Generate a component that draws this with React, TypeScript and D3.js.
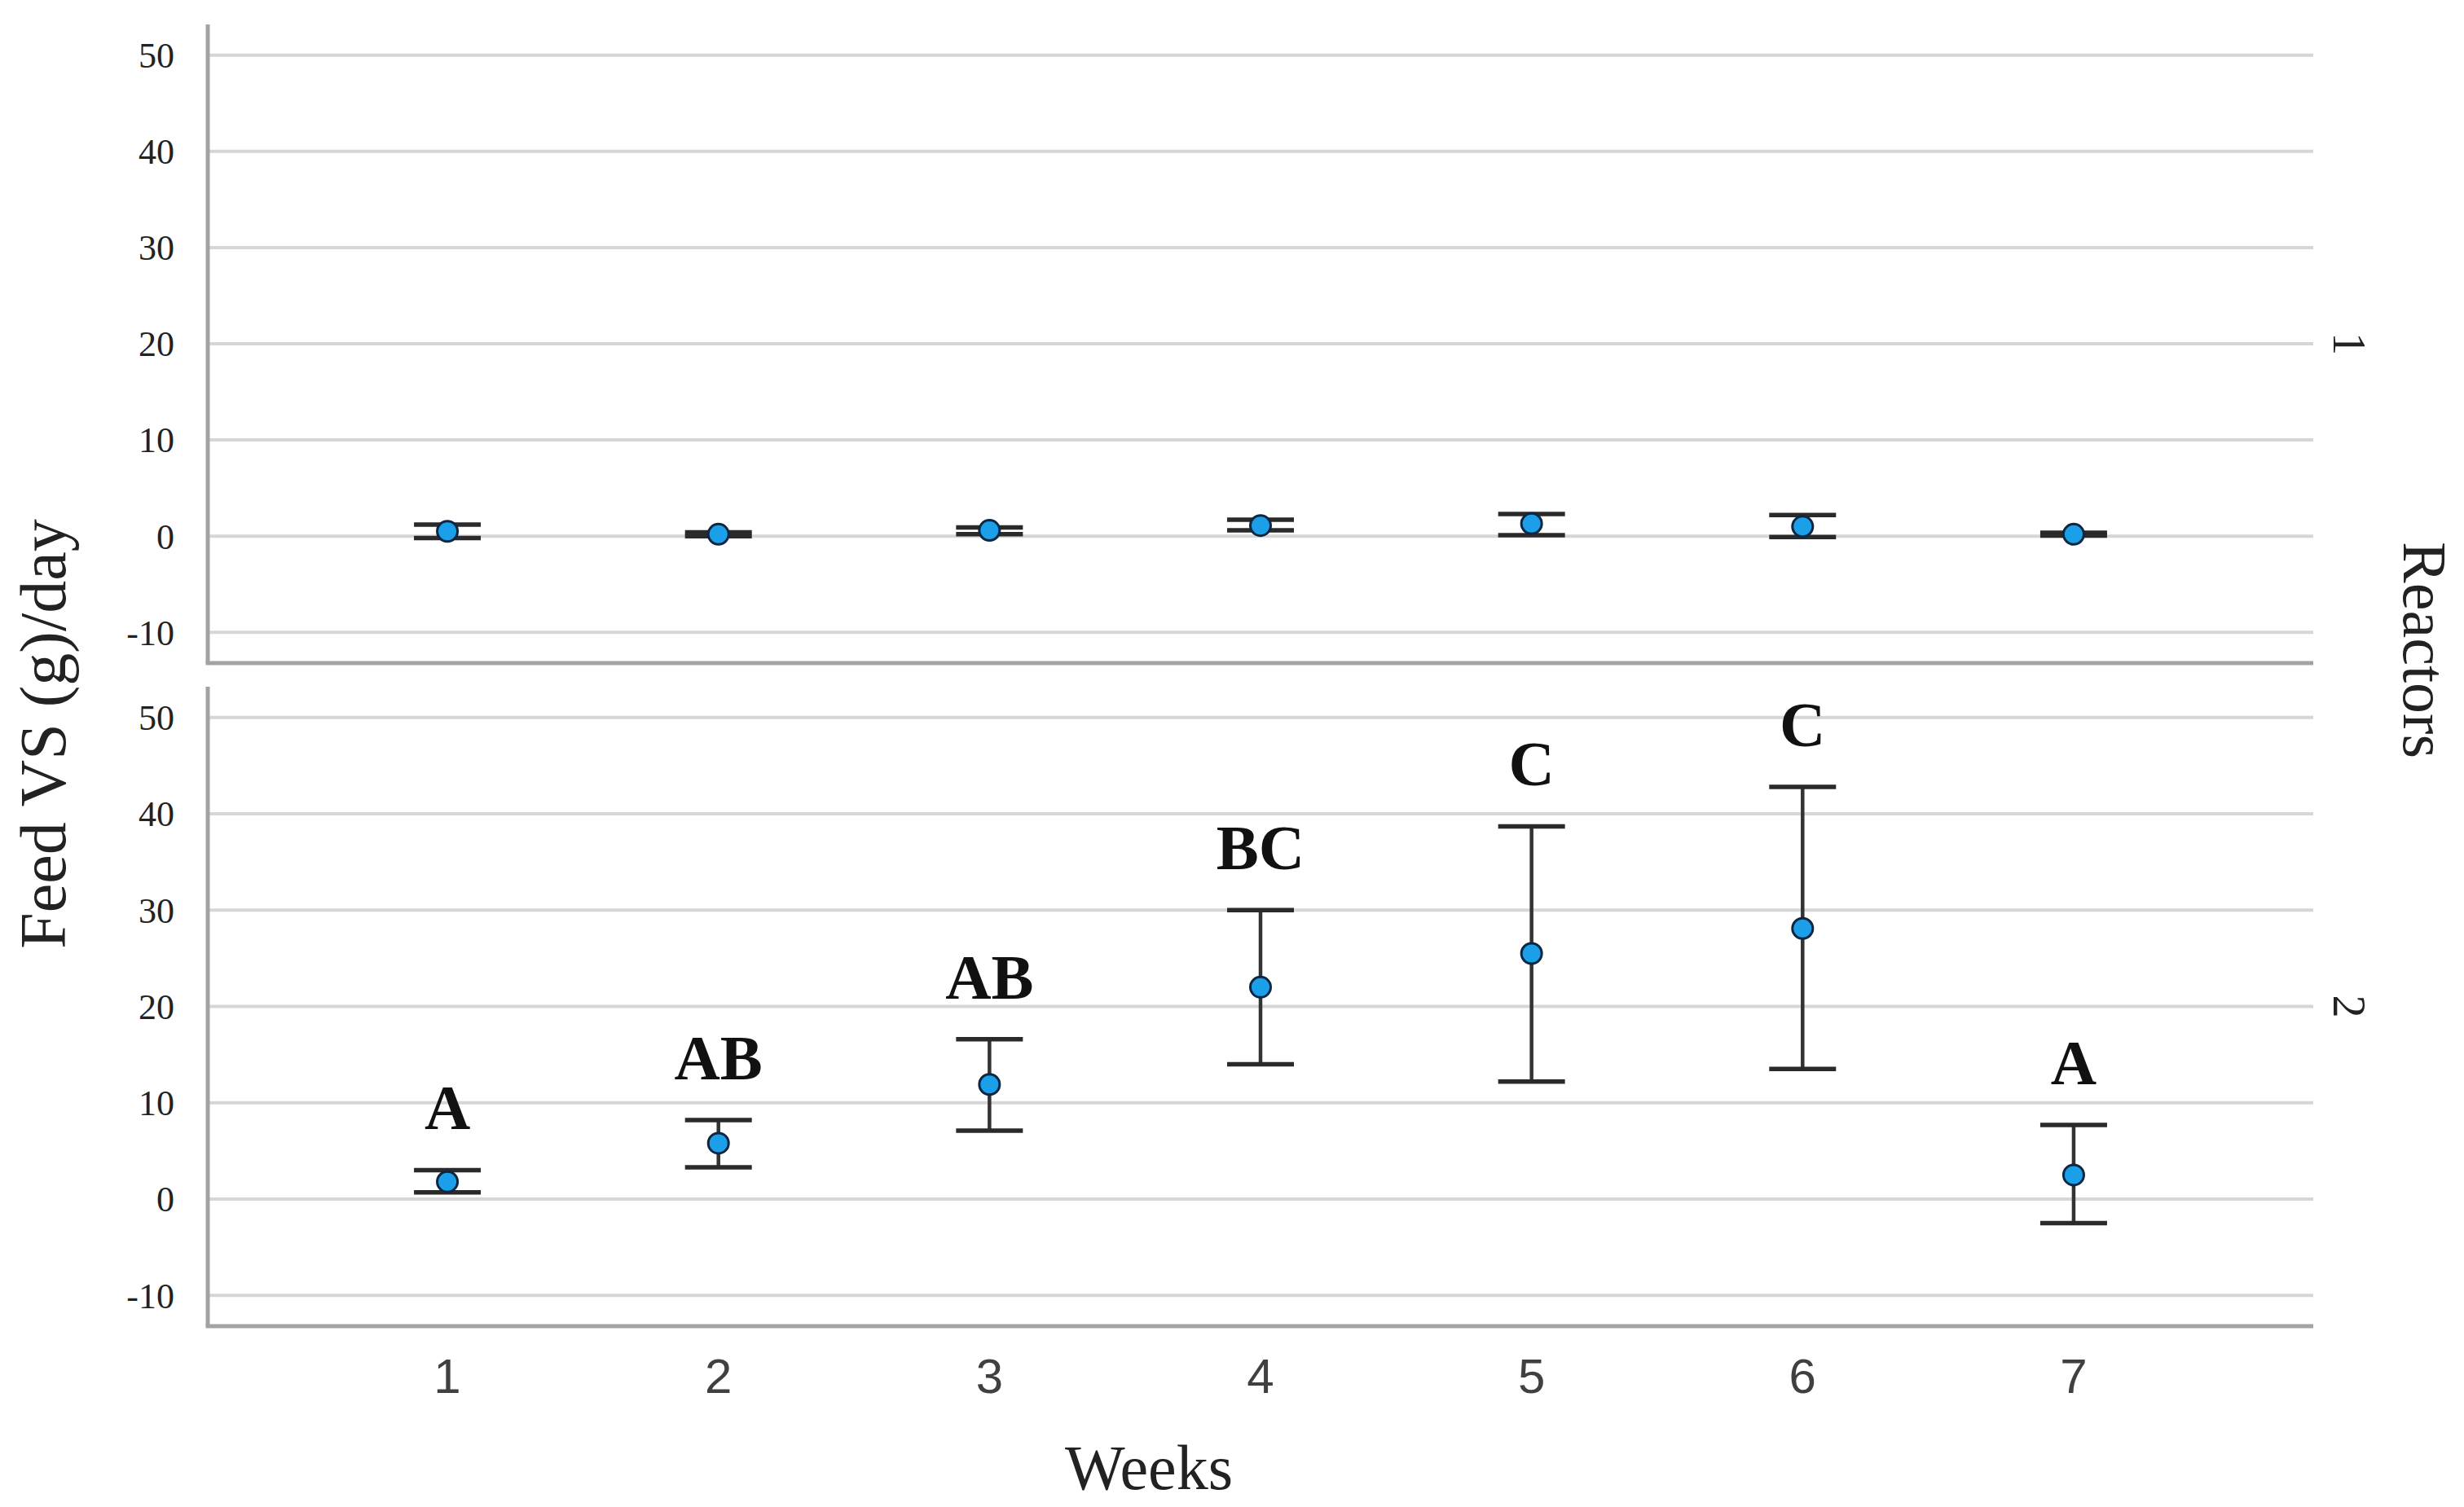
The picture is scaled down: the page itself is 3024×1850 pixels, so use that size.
import * as d3 from 'd3';

// weeks on the x axis
const weeks = [1, 2, 3, 4, 5, 6, 7];
const yTicks = [-10, 0, 10, 20, 30, 40, 50];
const reactors = ['1', '2'];

// reactor 1 (top panel)
const r1Mean = [0.5, 0.2, 0.6, 1.1, 1.3, 1.0, 0.2];
const r1Low  = [-0.2, 0.0, 0.2, 0.6, 0.1, -0.1, 0.05];
const r1High = [1.2, 0.4, 0.9, 1.7, 2.3, 2.2, 0.35];

// reactor 2 (bottom panel)
const r2Mean = [1.8, 5.8, 11.9, 22.0, 25.5, 28.1, 2.5];
const r2Low  = [0.7, 3.3, 7.1, 14.0, 12.2, 13.5, -2.5];
const r2High = [3.0, 8.2, 16.6, 30.0, 38.7, 42.8, 7.7];
const r2Letters = ['A', 'AB', 'AB', 'BC', 'C', 'C', 'A'];

const W = 3024;
const H = 1850;
const left = 255;
const right = 2839;
const yDomain: [number, number] = [-13.2, 53.2];

const SERIF = '"Liberation Serif", "Times New Roman", serif';
const SANS  = '"Liberation Sans", Arial, sans-serif';

const x = d3.scalePoint<number>().domain(weeks).range([left, right]).padding(0.884);

const panels = [
  { key: reactors[0], top: 30, bottom: 814, mean: r1Mean, low: r1Low, high: r1High, letters: null as string[] | null },
  { key: reactors[1], top: 843, bottom: 1628, mean: r2Mean, low: r2Low, high: r2High, letters: r2Letters },
];

function Panel({ p }: { p: typeof panels[number] }) {
  const y = d3.scaleLinear().domain(yDomain).range([p.bottom, p.top]);
  const cap = 41;
  return (
    <g>
      {yTicks.map(t => (
        <g key={t}>
          <line x1={left} x2={right} y1={y(t)} y2={y(t)} stroke="#d6d6d6" strokeWidth={4} />
          <text x={214} y={y(t)} dy="0.35em" textAnchor="end" fontFamily={SERIF} fontSize={44} fill="#222">
            {t}
          </text>
        </g>
      ))}
      <line x1={left} x2={left} y1={p.top} y2={p.bottom} stroke="#a3a3a3" strokeWidth={5} />
      <line x1={left - 2.5} x2={right} y1={p.bottom} y2={p.bottom} stroke="#a3a3a3" strokeWidth={5} />

      {weeks.map((w, i) => {
        const cx = x(w)!;
        return (
          <g key={w}>
            <line x1={cx} x2={cx} y1={y(p.high[i])} y2={y(p.low[i])} stroke="#333" strokeWidth={4.5} />
            <line x1={cx - cap} x2={cx + cap} y1={y(p.high[i])} y2={y(p.high[i])} stroke="#2a2a2a" strokeWidth={5.5} />
            <line x1={cx - cap} x2={cx + cap} y1={y(p.low[i])} y2={y(p.low[i])} stroke="#2a2a2a" strokeWidth={5.5} />
            <circle cx={cx} cy={y(p.mean[i])} r={12.5} fill="#1a9fe8" stroke="#0e2640" strokeWidth={3} />
            {p.letters && (
              <text x={cx} y={y(p.high[i]) - 50} textAnchor="middle" fontFamily={SERIF}
                fontWeight="bold" fontSize={78} fill="#111">
                {p.letters[i]}
              </text>
            )}
          </g>
        );
      })}

      <text transform={`translate(2864,${(p.top + p.bottom) / 2}) rotate(90)`} textAnchor="middle"
        fontFamily={SERIF} fontSize={56} fill="#222">
        {p.key}
      </text>
    </g>
  );
}

export default function App() {
  const botY = panels[1].bottom;
  return (
    <svg width={W} height={H} viewBox={`0 0 ${W} ${H}`}
      style={{ position: 'absolute', left: 0, top: 0, background: '#fff' }}>
      <rect width={W} height={H} fill="#fff" />
      {panels.map(p => <Panel key={p.key} p={p} />)}

      {weeks.map(w => (
        <text key={w} x={x(w)!} y={botY + 82} textAnchor="middle" fontFamily={SANS}
          fontSize={60} fill="#404040">
          {w}
        </text>
      ))}

      <text x={1410} y={1828} textAnchor="middle" fontFamily={SERIF} fontSize={78} fill="#222">
        Weeks
      </text>
      <text transform={`translate(80,${901}) rotate(-90)`} textAnchor="middle" fontFamily={SERIF}
        fontSize={80} fill="#222">
        Feed VS (g)/day
      </text>
      <text transform={`translate(2950,${798}) rotate(90)`} textAnchor="middle" fontFamily={SERIF}
        fontSize={76} fill="#222">
        Reactors
      </text>
    </svg>
  );
}
